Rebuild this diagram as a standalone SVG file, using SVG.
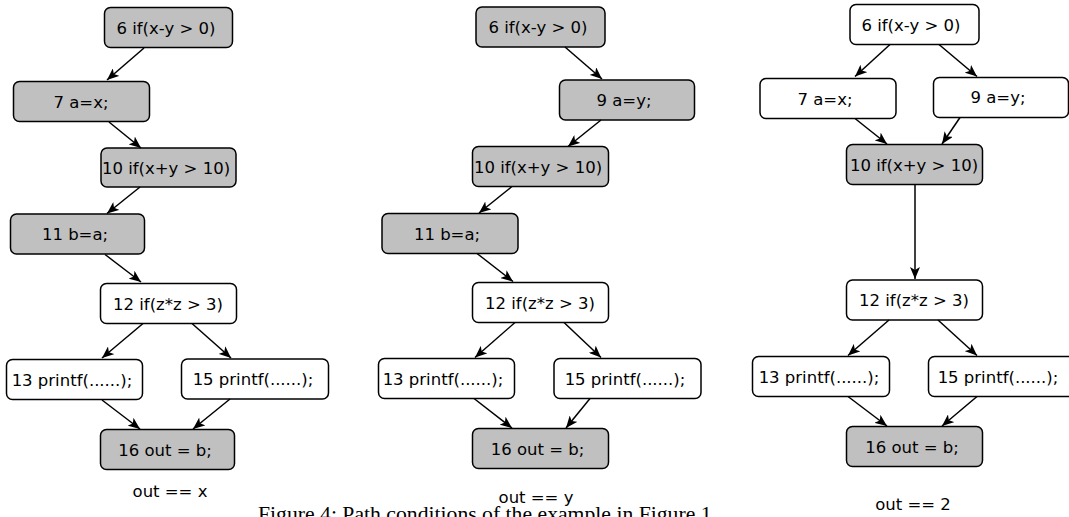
<svg xmlns="http://www.w3.org/2000/svg" width="1069" height="517" viewBox="0 0 1069 517">
<style>
.n rect{stroke:#000;stroke-width:1.5;rx:6px;ry:6px}
.g rect{fill:#c0c0c0}
.w rect{fill:#fff}
text{font-family:"DejaVu Sans",sans-serif;font-size:16.5px;fill:#000;text-anchor:middle}
.cap{font-family:"Liberation Serif",serif;font-size:21.7px;text-anchor:start}
#edges line{stroke:#000;stroke-width:1.5;marker-end:url(#ah)}
</style>
<defs>
<marker id="ah" markerUnits="userSpaceOnUse" markerWidth="12" markerHeight="10" viewBox="0 0 12 10" refX="12" refY="5" orient="auto">
<path d="M0,0 L12,5 L0,10 L3,5 z" fill="#000"/>
</marker>
</defs>
<rect width="1069" height="517" fill="#fff"/>

<!-- Panel 1 -->
<g id="p1n6" class="n g"><rect x="104.5" y="7.5" width="128" height="40"/><text x="166" y="33.5">6 if(x-y &gt; 0)</text></g>
<g id="p1n7" class="n g"><rect x="13.5" y="81.5" width="136" height="40"/><text x="81" y="107.5">7 a=x;</text></g>
<g id="p1n10" class="n g"><rect x="101" y="148" width="135" height="39"/><text x="166" y="174">10 if(x+y &gt; 10)</text></g>
<g id="p1n11" class="n g"><rect x="10.5" y="214" width="134" height="40"/><text x="75" y="240">11 b=a;</text></g>
<g id="p1n12" class="n w"><rect x="100.5" y="283.5" width="136" height="40"/><text x="168" y="309.5">12 if(z*z &gt; 3)</text></g>
<g id="p1n13" class="n w"><rect x="6.5" y="359.5" width="136" height="40"/><text x="72" y="385.5">13 printf(......);</text></g>
<g id="p1n15" class="n w"><rect x="181.5" y="359" width="147" height="40"/><text x="253" y="385">15 printf(......);</text></g>
<g id="p1n16" class="n g"><rect x="100.5" y="429.5" width="134" height="40"/><text x="165" y="455.5">16 out = b;</text></g>
<text id="p1lab" x="170" y="497">out == x</text>

<!-- Panel 2 -->
<g id="p2n6" class="n g"><rect x="476" y="7" width="129" height="40"/><text x="538" y="33">6 if(x-y &gt; 0)</text></g>
<g id="p2n9" class="n g"><rect x="559.5" y="80" width="135" height="40"/><text x="624" y="106">9 a=y;</text></g>
<g id="p2n10" class="n g"><rect x="472.5" y="146.5" width="136" height="40"/><text x="538" y="172.5">10 if(x+y &gt; 10)</text></g>
<g id="p2n11" class="n g"><rect x="382" y="213.5" width="136" height="40"/><text x="447" y="239.5">11 b=a;</text></g>
<g id="p2n12" class="n w"><rect x="472.5" y="282.5" width="136" height="40"/><text x="540" y="308.5">12 if(z*z &gt; 3)</text></g>
<g id="p2n13" class="n w"><rect x="378.5" y="358.5" width="136" height="40"/><text x="443" y="384.5">13 printf(......);</text></g>
<g id="p2n15" class="n w"><rect x="554" y="358.5" width="147" height="40"/><text x="625" y="384.5">15 printf(......);</text></g>
<g id="p2n16" class="n g"><rect x="472.5" y="428.5" width="136" height="40"/><text x="537.5" y="454.5">16 out = b;</text></g>
<text id="p2lab" x="536" y="503">out == y</text>

<!-- Panel 3 -->
<g id="p3n6" class="n w"><rect x="850" y="4.5" width="129" height="40"/><text x="911" y="30.5">6 if(x-y &gt; 0)</text></g>
<g id="p3n7" class="n w"><rect x="760" y="78.5" width="136" height="40"/><text x="825" y="104.5">7 a=x;</text></g>
<g id="p3n9" class="n w"><rect x="933.5" y="77.5" width="135" height="40"/><text x="998" y="103">9 a=y;</text></g>
<g id="p3n10" class="n g"><rect x="846.5" y="144.5" width="136" height="40"/><text x="914" y="170.5">10 if(x+y &gt; 10)</text></g>
<g id="p3n12" class="n w"><rect x="846.5" y="280" width="136" height="40"/><text x="914" y="306">12 if(z*z &gt; 3)</text></g>
<g id="p3n13" class="n w"><rect x="752.5" y="356.5" width="137" height="40"/><text x="819" y="382.5">13 printf(......);</text></g>
<g id="p3n15" class="n w"><rect x="928.5" y="356.5" width="147" height="40"/><text x="998" y="382.5">15 printf(......);</text></g>
<g id="p3n16" class="n g"><rect x="846.5" y="426.5" width="136" height="40"/><text x="912" y="452.5">16 out = b;</text></g>
<text id="p3lab" x="913" y="510">out == 2</text>

<text class="cap" x="258" y="521">Figure 4: Path conditions of the example in Figure 1.</text>

<g id="edges">
<line x1="144" y1="48" x2="107" y2="80"/>
<line x1="109" y1="122" x2="141" y2="148"/>
<line x1="140" y1="187" x2="107" y2="213.5"/>
<line x1="105" y1="254.5" x2="141" y2="282"/>
<line x1="143" y1="323.5" x2="102" y2="358"/>
<line x1="192" y1="323.5" x2="231" y2="358"/>
<line x1="102" y1="400" x2="140" y2="429"/>
<line x1="230" y1="399" x2="193" y2="429"/>

<line x1="565" y1="47" x2="602" y2="79"/>
<line x1="601" y1="120" x2="568" y2="146.5"/>
<line x1="512" y1="186.5" x2="479" y2="213"/>
<line x1="477" y1="253.5" x2="513" y2="281.5"/>
<line x1="515" y1="322.5" x2="475" y2="357.5"/>
<line x1="564" y1="322.5" x2="601" y2="357.5"/>
<line x1="474" y1="398.5" x2="512" y2="428"/>
<line x1="590" y1="398.5" x2="566" y2="428"/>

<line x1="890" y1="44.5" x2="855" y2="76.5"/>
<line x1="939" y1="44.5" x2="977" y2="76.5"/>
<line x1="855" y1="118.5" x2="887" y2="144"/>
<line x1="960" y1="117.5" x2="942" y2="144"/>
<line x1="915" y1="184.5" x2="915" y2="279"/>
<line x1="889" y1="320" x2="848" y2="355.5"/>
<line x1="938" y1="320" x2="977" y2="355.5"/>
<line x1="848" y1="396.5" x2="887" y2="426"/>
<line x1="977" y1="396.5" x2="942" y2="426"/>
</g>
</svg>
